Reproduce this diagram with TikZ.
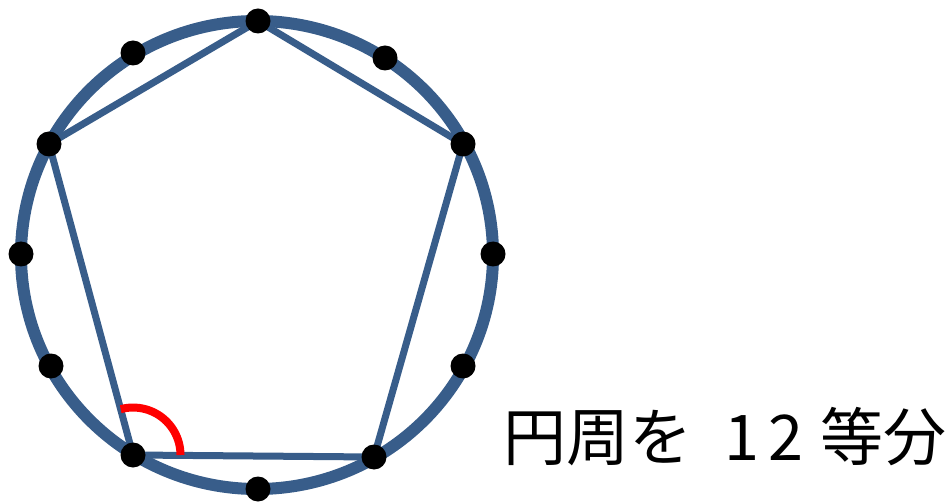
\documentclass[tikz,border=0pt]{standalone}
\usepackage{fontspec}
\usetikzlibrary{backgrounds}
\newfontfamily\jpfont{Noto Sans CJK JP}
\definecolor{ringblue}{RGB}{56,93,138}
\definecolor{anglered}{RGB}{255,0,0}
\begin{document}
\begin{tikzpicture}[x=1pt,y=1pt,
  dot/.style={circle,fill=black,minimum size=25pt,inner sep=0pt},
  ring/.style={draw=ringblue,line width=12pt},
  edge/.style={draw=ringblue,line width=7pt,line join=round,line cap=round},
  anglemark/.style={draw=anglered,line width=8pt},
  caption/.style={font=\jpfont\fontsize{63pt}{63pt}\selectfont,inner sep=0pt,anchor=base west}]
\useasboundingbox (0,0) rectangle (952,501);
\coordinate (c) at (257,246);
\node[dot] (p0) at (258,480) {};
\node[dot] (p1) at (385,443) {};
\node[dot] (p2) at (463,357) {};
\node[dot] (p3) at (493,247) {};
\node[dot] (p4) at (463,135) {};
\node[dot] (p5) at (374,44) {};
\node[dot] (p6) at (258,12) {};
\node[dot] (p7) at (133,46) {};
\node[dot] (p8) at (51,135) {};
\node[dot] (p9) at (21,247) {};
\node[dot] (p10) at (49,357) {};
\node[dot] (p11) at (133,448) {};
\begin{scope}[on background layer]
\draw[ring] (c) ellipse[x radius=236,y radius=234];
\draw[edge] (p0.center) -- (p2.center) -- (p5.center) -- (p7.center) -- (p10.center) -- cycle;
\draw[anglemark] ([shift={(0:47.5)}]p7.center) arc[start angle=0,end angle=105,radius=47.5];
\end{scope}
\node[caption] (t) at (503,41) {円周を\kern18.5pt\ 1\kern9pt 2\kern2.5pt\ 等分};
\end{tikzpicture}
\end{document}
